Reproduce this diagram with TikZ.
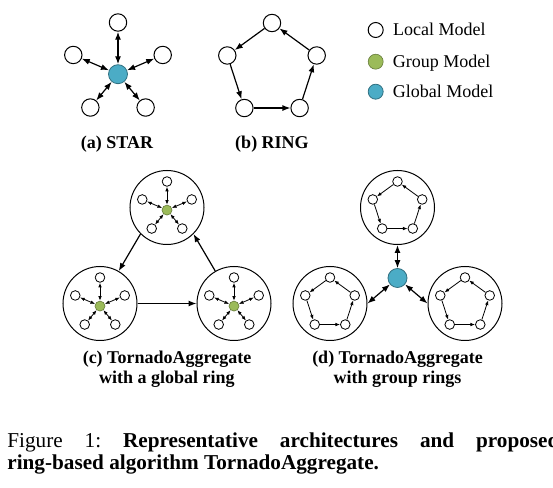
\documentclass[tikz,border=0pt]{standalone}
\usepackage{fontspec}
\setmainfont{Liberation Serif}
\usetikzlibrary{shapes,arrows.meta}
\usetikzlibrary{positioning}
\usetikzlibrary{calc}
\definecolor{myblue}{RGB}{75,172,198}
\definecolor{mygreen}{RGB}{155,187,89}
\newcommand\mypenta[4][local]{%
  \node[#1] (#2-1) at ($(#3)+(90:#4)$) {};
  \node[#1] (#2-2) at ($(#3)+(162:#4)$) {};
  \node[#1] (#2-3) at ($(#3)+(234:#4)$) {};
  \node[#1] (#2-4) at ($(#3)+(306:#4)$) {};
  \node[#1] (#2-5) at ($(#3)+(18:#4)$) {};
}
\newcommand\mystar[6]{%
  \node[#1] (#4) at ($(#5)+(0,-#6/10)$) {};
  \mypenta[#2]{#4}{#5}{#6}
  \draw[#3] (#4) -- (#4-1);
  \draw[#3] (#4) -- (#4-2);
  \draw[#3] (#4) -- (#4-3);
  \draw[#3] (#4) -- (#4-4);
  \draw[#3] (#4) -- (#4-5);
}
\newcommand\myring[5]{%
  \mypenta[#1]{#3}{#4}{#5}
  \draw[#2] (#3-1) -- (#3-2);
  \draw[#2] (#3-2) -- (#3-3);
  \draw[#2] (#3-3) -- (#3-4);
  \draw[#2] (#3-4) -- (#3-5);
  \draw[#2] (#3-5) -- (#3-1);
}
\begin{document}
\begin{tikzpicture}[
x=0.5pt, y=0.5pt,
local/.style={circle, draw, fill=white, minimum size=8.7pt, inner sep=0pt, line width=0.5pt},
slocal/.style={local, minimum size=4.8pt, line width=0.4pt},
global/.style={circle, draw=myblue!65!black, fill=myblue, minimum size=9.5pt, inner sep=0pt, line width=0.4pt},
group/.style={circle, draw=mygreen!65!black, fill=mygreen, minimum size=5pt, inner sep=0pt, line width=0.3pt},
area/.style={circle, draw, minimum size=37pt, inner sep=0pt, line width=0.5pt},
arr/.style={-{Latex[length=4pt,width=3pt]}, line width=0.6pt},
duo/.style={{Latex[length=4pt,width=3pt]}-{Latex[length=4pt,width=3pt]}, line width=0.6pt},
sarr/.style={-{Latex[length=2.3pt,width=1.8pt]}, line width=0.4pt},
sduo/.style={{Latex[length=2.3pt,width=1.8pt]}-{Latex[length=2.3pt,width=1.8pt]}, line width=0.4pt},
lab/.style={font=\fontsize{9}{10}\selectfont\bfseries, align=center},
legtext/.style={font=\fontsize{9}{10}\selectfont, inner sep=0pt, text height=1.5ex, text depth=0.25ex}
]
\useasboundingbox (0,0) rectangle (553,488);
% (a) star
\mystar{global}{local}{duo}{star}{118,418.5}{47}
\node[lab, anchor=base] (capA) at (117,339.7) {(a) STAR};
% (b) ring
\myring{local}{arr}{ring}{272,418}{47}
\node[lab, anchor=base] (capB) at (272,339.7) {(b) RING};
% legend
\node[local, minimum size=7.5pt] (legLocal) at (375.7,458) {};
\node[group, minimum size=7.5pt] (legGroup) at (375.7,426.3) {};
\node[global, minimum size=7.5pt] (legGlobal) at (375.7,396.3) {};
\node[legtext, right=4.5pt of legLocal] {Local Model};
\node[legtext, right=4.5pt of legGroup] {Group Model};
\node[legtext, right=4.5pt of legGlobal] {Global Model};
% (c) global ring of group stars
\node[area] (c1) at (167,280.5) {};
\node[area] (c2) at (100,184.5) {};
\node[area] (c3) at (234,184.5) {};
\mystar{group}{slocal}{sduo}{c1s}{167,280.5}{26}
\mystar{group}{slocal}{sduo}{c2s}{100,184.5}{26}
\mystar{group}{slocal}{sduo}{c3s}{234,184.5}{26}
\draw[arr] (c1.225) -- (c2.60);
\draw[arr] (c2) -- (c3);
\draw[arr] (c3.120) -- (c1.-45);
\node[lab] (capC) at (167,119) {(c) TornadoAggregate\\with a global ring};
% (d) group rings around the global model
\node[area] (d1) at (397.5,280.5) {};
\node[area] (d2) at (330,184.5) {};
\node[area] (d3) at (465,184.5) {};
\myring{slocal}{sarr}{d1r}{397.5,280.5}{26}
\myring{slocal}{sarr}{d2r}{330,184.5}{26}
\myring{slocal}{sarr}{d3r}{465,184.5}{26}
\node[global] (hub) at (397.5,210) {};
\draw[duo] (hub) -- (d1);
\draw[duo] (hub) -- (d2.east);
\draw[duo] (hub) -- (d3.west);
\node[lab] (capD) at (397.5,119) {(d) TornadoAggregate\\with group rings};
% figure caption
\node[anchor=north west, text width=276pt, align=justify, inner sep=0pt, font=\fontsize{10.6}{10.8}\selectfont\frenchspacing] (cap) at (7,55.5) {Figure 1: \textbf{Representative architectures and proposed\linebreak ring-based algorithm TornadoAggregate.}};
\end{tikzpicture}
\end{document}
